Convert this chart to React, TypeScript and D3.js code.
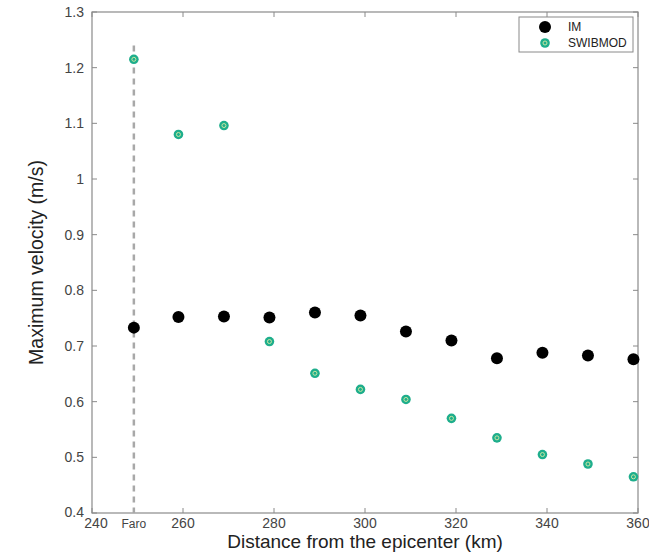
import React from "react";
import * as d3 from "d3";

const distances = [249.2, 259, 269, 279, 289, 299, 309, 319, 329, 339, 349, 359];
const imValues = [0.733, 0.752, 0.753, 0.751, 0.760, 0.755, 0.726, 0.710, 0.678, 0.688, 0.683, 0.676];
const swibValues = [1.215, 1.080, 1.096, 0.708, 0.651, 0.622, 0.604, 0.570, 0.535, 0.505, 0.488, 0.465];
const xTicks = [240, 249.2, 260, 280, 300, 320, 340, 360];
const xTickLabels = ["240", "Faro", "260", "280", "300", "320", "340", "360"];
const yTicks = [0.4, 0.5, 0.6, 0.7, 0.8, 0.9, 1, 1.1, 1.2, 1.3];
const faroX = 249.2;

const W = 649, H = 555;
const L = 92, R = 638, T = 12, B = 513;

export default function App() {
  const x = d3.scaleLinear().domain([240, 360]).range([L, R]);
  const y = d3.scaleLinear().domain([0.4, 1.3]).range([B, T]);
  const axisColor = "#8a8a8a";
  const font = "'Liberation Sans', Arial, Helvetica, sans-serif";
  const swibMarker = (cx: number, cy: number, key: string | number) => (
    <g key={key} transform={`translate(${cx},${cy})`}>
      <circle r={4.8} fill="#1eae8c" />
      <circle r={2} fill="none" stroke="#c9e6a0" strokeWidth={1} />
    </g>
  );
  return (
    <svg width={W} height={H} style={{ position: "absolute", left: 0, top: 0, background: "#fff" }}>
      <rect x={0} y={0} width={W} height={H} fill="#fff" />
      {/* frame */}
      <rect x={L} y={T} width={R - L} height={B - T} fill="none" stroke={axisColor} strokeWidth={1.2} />
      {/* x ticks */}
      {xTicks.map((t, i) => (
        <g key={"xt" + i}>
          {i !== 1 && (
            <>
              <line x1={x(t)} x2={x(t)} y1={B} y2={B - 5} stroke={axisColor} />
              <line x1={x(t)} x2={x(t)} y1={T} y2={T + 5} stroke={axisColor} />
            </>
          )}
          <text
            x={x(t) + (i === 0 ? 4 : 0)}
            y={B + 15}
            textAnchor="middle"
            fontFamily={font}
            fontSize={i === 1 ? 12 : 14}
            fill="#444"
          >
            {xTickLabels[i]}
          </text>
        </g>
      ))}
      {/* y ticks */}
      {yTicks.map((t, i) => (
        <g key={"yt" + i}>
          <line x1={L} x2={L + 5} y1={y(t)} y2={y(t)} stroke={axisColor} />
          <line x1={R} x2={R - 5} y1={y(t)} y2={y(t)} stroke={axisColor} />
          <text
            x={L - 8}
            y={y(t) + 5 - (i === 0 ? 1 : 0)}
            textAnchor="end"
            fontFamily={font}
            fontSize={14}
            fill="#444"
          >
            {d3.format("~g")(t)}
          </text>
        </g>
      ))}
      {/* Faro dashed line */}
      <line
        x1={x(faroX)}
        x2={x(faroX)}
        y1={y(1.24)}
        y2={B}
        stroke="#a8a8a8"
        strokeWidth={2.5}
        strokeDasharray="6,5"
      />
      {/* IM */}
      {distances.map((d, i) => (
        <circle key={"im" + i} cx={x(d)} cy={y(imValues[i])} r={6} fill="#000" />
      ))}
      {/* SWIBMOD */}
      {distances.map((d, i) => swibMarker(x(d), y(swibValues[i]), "sw" + i))}
      {/* legend */}
      <rect x={519} y={17} width={114} height={35} fill="#fff" stroke={axisColor} strokeWidth={1} />
      <circle cx={545} cy={27} r={6} fill="#000" />
      <text x={568} y={31} fontFamily={font} fontSize={12} fill="#222">IM</text>
      {swibMarker(545, 43, "leg")}
      <text x={568} y={47} fontFamily={font} fontSize={12} fill="#222">SWIBMOD</text>
      {/* axis labels */}
      <text
        x={(L + R) / 2}
        y={548}
        textAnchor="middle"
        fontFamily={font}
        fontSize={19}
        fill="#222"
      >
        Distance from the epicenter (km)
      </text>
      <text
        transform={`translate(${43},${(T + B) / 2}) rotate(-90)`}
        textAnchor="middle"
        fontFamily={font}
        fontSize={19.5}
        fill="#222"
      >
        Maximum velocity (m/s)
      </text>
    </svg>
  );
}
